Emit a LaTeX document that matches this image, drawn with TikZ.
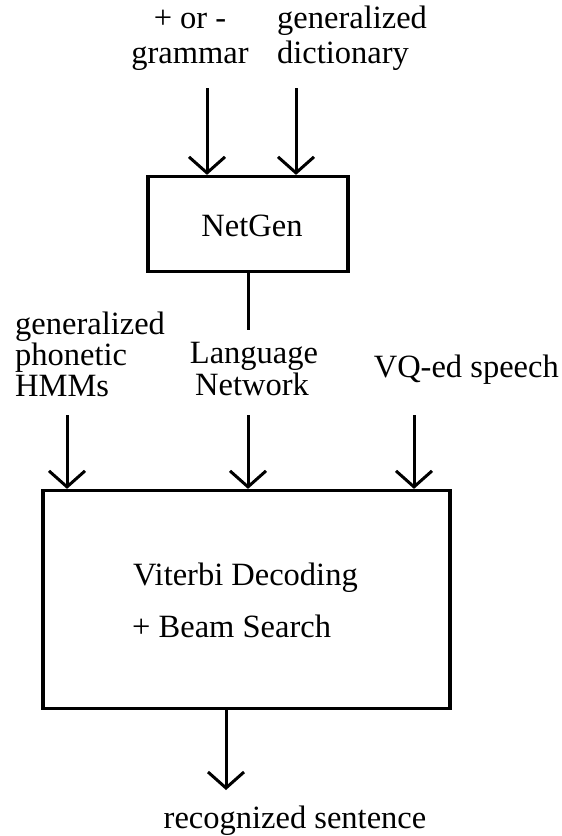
\documentclass[tikz,border=0pt]{standalone}
\usepackage{fontspec}
\setmainfont{Liberation Serif}
\usetikzlibrary{arrows.meta}
\begin{document}
\begin{tikzpicture}[x=1pt,y=-1pt,
  lbl/.style={inner sep=0pt,anchor=base,font=\fontsize{32.5}{35}\selectfont},
  lbll/.style={lbl,anchor=base west},
  box/.style={draw,line width=3.2pt},
  arr/.style={line width=3pt,-{Straight Barb[length=16pt,width=36pt,line width=3pt]}},
  ln/.style={line width=3pt}]
\useasboundingbox (0,0) rectangle (562,836);
% top labels
\node[lbl] (pm) at (190,28) {+ or -};
\node[lbl] (gr) at (190,63) {grammar};
\node[lbll] (gen1) at (277,28) {generalized};
\node[lbll] (dic) at (277,63) {dictionary};
% NetGen box
\node[box,minimum width=200pt,minimum height=95pt,inner sep=0pt] (ng) at (248,224) {};
\node[lbl] (ngt) at (252,236) {NetGen};
\coordinate (a1s) at (207,88);
\coordinate (a2s) at (296,88);
\draw[arr] (a1s) -- (a1s |- ng.north);
\draw[arr] (a2s) -- (a2s |- ng.north);
% middle labels
\node[lbll] (g2a) at (15,334) {generalized};
\node[lbll] (g2b) at (15,365) {phonetic};
\node[lbll] (g2c) at (15,396) {HMMs};
\node[lbl] (lang) at (254,363) {Language};
\node[lbl] (net) at (252,395) {Network};
\node[lbl,anchor=base east] (vq) at (559,377) {VQ-ed speech};
\coordinate (ngend) at (248,330);
\draw[ln] (ng.south) -- (ngend);
% big box
\node[box,minimum width=407pt,minimum height=218pt,inner sep=0pt] (vd) at (246.5,599.5) {};
\node[lbll] (v1) at (133,585) {Viterbi Decoding};
\node[lbll] (v2) at (132,637) {+ Beam Search};
\coordinate (b1s) at (67,415);
\coordinate (b2s) at (248,415);
\coordinate (b3s) at (414,415);
\draw[arr] (b1s) -- (b1s |- vd.north);
\draw[arr] (b2s) -- (b2s |- vd.north);
\draw[arr] (b3s) -- (b3s |- vd.north);
% output
\coordinate (os) at (226,0);
\coordinate (oe) at (226,790);
\draw[arr] (os |- vd.south) -- (oe);
\node[lbl] (rec) at (295,828) {recognized sentence};
\end{tikzpicture}
\end{document}
